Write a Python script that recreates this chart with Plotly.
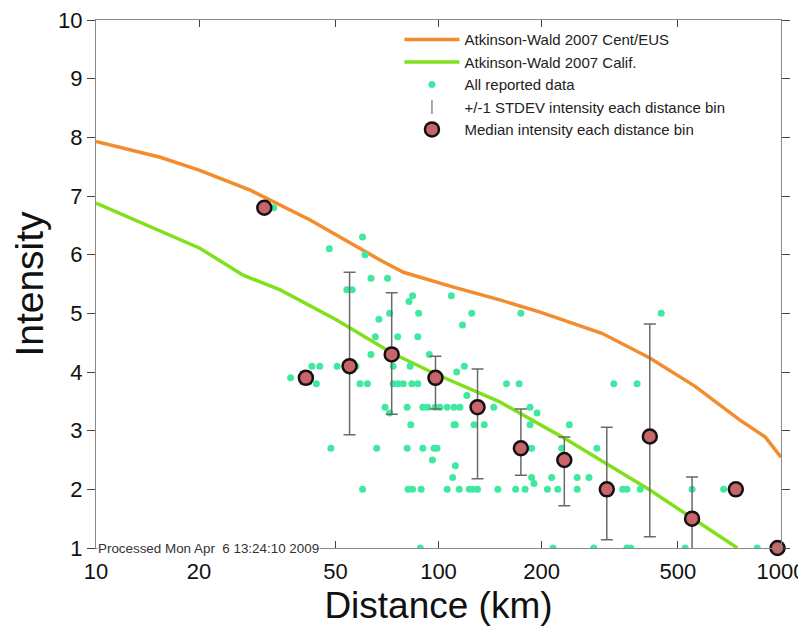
import plotly.graph_objects as go

# ---- Model curves (Atkinson-Wald 2007) ----
cent_dist = [10, 15.4, 20, 28.2, 42.2, 67.5, 79, 110, 151, 198, 300, 414, 560, 759, 900, 1000]
cent_int = [7.93, 7.66, 7.44, 7.10, 6.59, 5.91, 5.70, 5.45, 5.23, 5.02, 4.66, 4.24, 3.76, 3.18, 2.89, 2.55]

calif_dist = [10, 20.1, 26.9, 34.5, 50.3, 73.3, 97.7, 151, 230, 414, 550, 746]
calif_int = [6.88, 6.11, 5.65, 5.40, 4.89, 4.32, 3.97, 3.49, 2.89, 1.99, 1.51, 1.0]

# ---- All reported data ----
data_dist = [
    33, 60, 48, 61, 63.5, 71, 54, 56, 84, 109, 82,
    72, 87.5, 125, 174, 447, 67, 117.5, 65.4, 76, 87, 63.5, 94,
    42.7, 45, 50.6, 57.4, 73.7, 82.6, 119, 113, 37,
    44, 59, 62, 73.7, 76.2, 78.9, 83.6, 87, 158, 172, 325, 380,
    121,
    69.8, 81, 90, 93, 97.8, 101, 106, 111, 115.5, 145, 185,
    72, 194,
    83, 111, 112, 127, 136, 185, 241,
    48.5, 66, 81, 90, 97, 99, 187, 229, 290,
    96, 112,
    110, 187, 214, 254, 275, 190,
    60, 81.5, 84, 89, 106, 115, 123, 126, 130, 149, 168, 179, 208, 223, 254, 345, 355, 388, 550, 680,
    88.5, 216, 284, 355, 364, 525, 852,
]
data_int = [
    6.8, 6.3, 6.1, 6.0, 5.6, 5.6, 5.4, 5.4, 5.3, 5.3, 5.2,
    5.0, 5.0, 5.0, 5.0, 5.0, 4.9, 4.8, 4.6, 4.6, 4.6, 4.3, 4.3,
    4.1, 4.1, 4.1, 4.1, 4.1, 4.1, 4.1, 4.0, 3.9,
    3.8, 3.8, 3.8, 3.8, 3.8, 3.8, 3.8, 3.8, 3.8, 3.8, 3.8, 3.8,
    3.6,
    3.4, 3.4, 3.4, 3.4, 3.4, 3.4, 3.4, 3.4, 3.4, 3.4, 3.4,
    3.3, 3.3,
    3.1, 3.1, 3.1, 3.1, 3.1, 3.1, 3.1,
    2.7, 2.7, 2.7, 2.7, 2.7, 2.7, 2.7, 2.7, 2.7,
    2.5, 2.4,
    2.2, 2.2, 2.2, 2.2, 2.2, 2.1,
    2.0, 2.0, 2.0, 2.0, 2.0, 2.0, 2.0, 2.0, 2.0, 2.0, 2.0, 2.0, 2.0, 2.0, 2.0, 2.0, 2.0, 2.0, 2.0, 2.0,
    1.0, 1.0, 1.0, 1.0, 1.0, 1.0, 1.0,
]

# ---- Binned statistics ----
bin_dist = [31, 41, 55, 73, 98, 130, 174, 233, 310, 414, 550, 738, 977]
bin_median = [6.8, 3.9, 4.1, 4.3, 3.9, 3.4, 2.7, 2.5, 2.0, 2.9, 1.5, 2.0, 1.0]
bin_upper = [None, 4.0, 5.7, 5.35, 4.27, 4.05, 3.37, 2.89, 3.06, 4.82, 2.21, None, None]
bin_lower = [None, 3.8, 2.93, 3.28, 3.37, 2.18, 2.24, 1.72, 1.14, 1.19, 0.8, None, None]

x_ticks = [10, 20, 50, 100, 200, 500, 1000]
y_ticks = [1, 2, 3, 4, 5, 6, 7, 8, 9, 10]

FONT = "Liberation Sans, Arial, Helvetica, sans-serif"

fig = go.Figure()

fig.add_trace(go.Scatter(
    x=cent_dist, y=cent_int, mode="lines",
    line=dict(color="#f28c2c", width=3.5),
    name="Atkinson-Wald 2007 Cent/EUS",
))
fig.add_trace(go.Scatter(
    x=calif_dist, y=calif_int, mode="lines",
    line=dict(color="#80e01c", width=3.5),
    name="Atkinson-Wald 2007 Calif.",
))
fig.add_trace(go.Scatter(
    x=data_dist, y=data_int, mode="markers",
    marker=dict(color="#40e8a0", size=7),
    name="All reported data",
))

eb = [(d, m, u, l) for d, m, u, l in zip(bin_dist, bin_median, bin_upper, bin_lower) if u is not None]
fig.add_trace(go.Scatter(
    x=[e[0] for e in eb], y=[e[1] for e in eb], mode="markers",
    marker=dict(symbol="line-ns", size=10, color="#707070", line=dict(color="#707070", width=1.2)),
    error_y=dict(type="data", symmetric=False,
                 array=[e[2] - e[1] for e in eb],
                 arrayminus=[e[1] - e[3] for e in eb],
                 color="#6a6a6a", thickness=1.5, width=6),
    name="+/-1 STDEV intensity each distance bin",
))
fig.add_trace(go.Scatter(
    x=bin_dist, y=bin_median, mode="markers",
    marker=dict(color="#c8646a", size=14, line=dict(color="#111111", width=2.5)),
    name="Median intensity each distance bin",
    cliponaxis=False,
))

fig.add_annotation(
    text="Processed Mon Apr  6 13:24:10 2009",
    xref="paper", yref="paper", x=0.001, y=0, xanchor="left", yanchor="middle",
    showarrow=False, bgcolor="white", borderpad=0,
    font=dict(family=FONT, size=13.4, color="#333333"),
)

fig.update_layout(
    width=798, height=627,
    margin=dict(l=88, r=25, t=12, b=87),
    paper_bgcolor="white", plot_bgcolor="white",
    font=dict(family=FONT, color="#111111"),
    showlegend=True,
    legend=dict(
        x=0.443, y=0.994, xanchor="left", yanchor="top",
        bgcolor="rgba(255,255,255,0)", borderwidth=0,
        font=dict(family=FONT, size=15, color="#222222"),
        itemwidth=55, tracegroupgap=0,
    ),
    xaxis=dict(
        type="log", range=[1, 3], automargin=False,
        tickvals=x_ticks, ticktext=[str(v) for v in x_ticks],
        ticks="inside", ticklen=7, tickcolor="#444444",
        ticklabelstandoff=4, ticklabeloverflow="allow",
        showline=True, linecolor="#888888", linewidth=1, mirror="ticks",
        showgrid=False, zeroline=False,
        tickfont=dict(size=22, color="#111111"),
        title=dict(text="Distance (km)", font=dict(size=37, color="#111111"), standoff=8),
    ),
    yaxis=dict(
        range=[1, 10], automargin=False,
        tickvals=y_ticks,
        ticks="outside", ticklen=8, tickcolor="#444444",
        ticklabeloverflow="allow",
        showline=True, linecolor="#888888", linewidth=1, mirror="ticks",
        showgrid=False, zeroline=False,
        tickfont=dict(size=22, color="#111111"),
        title=dict(text="Intensity", font=dict(size=39, color="#111111"), standoff=10),
    ),
)

fig.write_html("out.html")
